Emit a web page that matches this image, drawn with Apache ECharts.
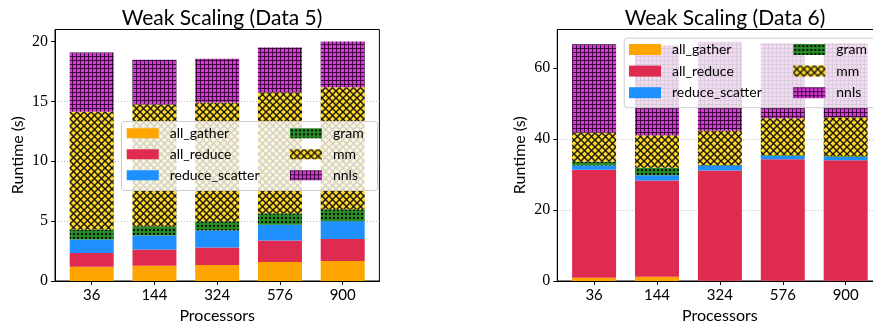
<!DOCTYPE html>
<html>
<head>
<meta charset="utf-8">
<script src="https://cdn.jsdelivr.net/npm/echarts@6/dist/echarts.min.js"></script>
<style>
  html, body { margin: 0; padding: 0; background: #fff; }
  #chart { width: 873px; height: 326px; }
</style>
</head>
<body>
<div id="chart"></div>
<script>
// Categories and stacked runtime components (seconds)
const processors = ['36', '144', '324', '576', '900'];
const componentNames = ['all_gather', 'all_reduce', 'reduce_scatter', 'gram', 'mm', 'nnls'];

// Weak Scaling (Data 5)
const d5AllGather     = [1.20, 1.28, 1.34, 1.59, 1.67];
const d5AllReduce     = [1.14, 1.34, 1.45, 1.79, 1.84];
const d5ReduceScatter = [1.12, 1.17, 1.42, 1.31, 1.48];
const d5Gram          = [0.84, 0.78, 0.78, 0.97, 1.01];
const d5Mm            = [9.84, 10.16, 9.91, 10.07, 10.18];
const d5Nnls          = [4.94, 3.74, 3.65, 3.77, 3.82];

// Weak Scaling (Data 6)
const d6AllGather     = [0.94, 1.23, 0.08, 0.05, 0.05];
const d6AllReduce     = [30.40, 27.07, 31.00, 34.25, 33.95];
const d6ReduceScatter = [1.20, 1.50, 1.40, 0.90, 0.90];
const d6Gram          = [1.00, 2.10, 0.20, 0.20, 0.20];
const d6Mm            = [8.20, 9.10, 9.60, 10.40, 11.00];
const d6Nnls          = [24.90, 25.30, 25.10, 21.10, 20.80];

// Tick values
const ticksData5 = [0, 5, 10, 15, 20];
const ticksData6 = [0, 20, 40, 60];

// ---- hatch fills ----
function tile(size, bg, draw) {
  const c = document.createElement('canvas');
  c.width = size; c.height = size;
  const g = c.getContext('2d');
  g.fillStyle = bg;
  g.fillRect(0, 0, size, size);
  draw(g, size);
  return { image: c, repeat: 'repeat' };
}
const dotsFill = tile(4, '#278a27', (g) => {
  g.fillStyle = '#061206';
  g.fillRect(1, 1, 2, 2);
});
const crossFill = tile(7, '#ffd82a', (g, s) => {
  g.strokeStyle = 'rgba(10,10,10,0.9)';
  g.lineWidth = 1.5;
  for (let k = -1; k <= 1; k++) {
    g.beginPath(); g.moveTo(k * s, 0); g.lineTo(k * s + s, s); g.stroke();
    g.beginPath(); g.moveTo(k * s + s, 0); g.lineTo(k * s, s); g.stroke();
  }
});
const gridFill = tile(4, '#d63ad6', (g, s) => {
  g.fillStyle = 'rgba(40,0,40,0.85)';
  g.fillRect(0, 0, s, 1);
  g.fillRect(0, 0, 1, s);
});
const fills = ['#ffa500', '#e02b50', '#1e90ff', dotsFill, crossFill, gridFill];

const sansFont = 'Lato';
const serifFont = 'Liberation Serif';

// value first so the runtime dimension is the stacked one; position index second
function buildSeries(idx, columns) {
  return columns.map((col, i) => ({
    type: 'bar',
    name: componentNames[i],
    xAxisIndex: idx,
    yAxisIndex: idx,
    stack: 'runtime' + idx,
    barWidth: 44,
    silent: true,
    itemStyle: { color: fills[i] },
    encode: { x: 1, y: 0 },
    data: col.map((v, k) => [v, k])
  }));
}

function xAxisFor(idx) {
  return {
    type: 'value',
    gridIndex: idx,
    min: -0.585,
    max: 4.585,
    axisLine: { show: true, onZero: false, lineStyle: { color: '#000', width: 1 } },
    axisTick: { show: true, length: 4, customValues: [0, 1, 2, 3, 4], lineStyle: { color: '#000' } },
    axisLabel: {
      customValues: [0, 1, 2, 3, 4],
      formatter: (v) => processors[Math.round(v)],
      margin: 7,
      fontFamily: sansFont, fontSize: 15, color: '#000'
    },
    splitLine: { show: false },
    name: 'Processors',
    nameLocation: 'middle',
    nameGap: 23,
    nameTextStyle: { fontFamily: sansFont, fontSize: 16, color: '#000' }
  };
}

function yAxisFor(idx, max, interval, ticks) {
  return {
    type: 'value',
    gridIndex: idx,
    min: 0,
    max: max,
    interval: interval,
    axisLine: { show: true, onZero: false, lineStyle: { color: '#000', width: 1 } },
    axisTick: { show: true, length: 4, customValues: ticks, lineStyle: { color: '#000' } },
    axisLabel: {
      showMaxLabel: false,
      margin: 7,
      fontFamily: serifFont, fontSize: 16, color: '#000'
    },
    splitLine: {
      show: true, showMaxLine: false, showMinLine: false,
      lineStyle: { color: '#b8b8b8', width: 1, type: [1, 2] }
    },
    name: 'Runtime (s)',
    nameLocation: 'middle',
    nameGap: 29,
    nameTextStyle: { fontFamily: sansFont, fontSize: 16, color: '#000' }
  };
}

function legendColumn(left, top, names, itemHeight, gap) {
  return {
    left: left, top: top, orient: 'vertical', padding: 0,
    itemWidth: 32, itemHeight: itemHeight, itemGap: gap,
    icon: 'rect', selectedMode: false, z: 60,
    data: names,
    textStyle: { fontFamily: sansFont, fontSize: 14, lineHeight: 14, color: '#000', padding: [0, 0, 0, 6] }
  };
}

const chart = echarts.init(document.getElementById('chart'), null, { renderer: 'canvas' });
chart.setOption({
  animation: false,
  backgroundColor: '#fff',
  title: [
    { text: 'Weak Scaling (Data 5)', left: 217, top: 3, textAlign: 'center',
      textStyle: { fontFamily: sansFont, fontSize: 21, fontWeight: 'normal', color: '#000' } },
    { text: 'Weak Scaling (Data 6)', left: 720, top: 3, textAlign: 'center',
      textStyle: { fontFamily: sansFont, fontSize: 21, fontWeight: 'normal', color: '#000' } }
  ],
  grid: [
    { left: 55, top: 29.5, width: 324.4, bottom: 45, outerBoundsMode: 'none', containLabel: false,
      show: true, borderColor: '#000', borderWidth: 1, backgroundColor: 'transparent' },
    { left: 557.3, top: 29.5, width: 325.2, bottom: 45, outerBoundsMode: 'none', containLabel: false,
      show: true, borderColor: '#000', borderWidth: 1, backgroundColor: 'transparent' }
  ],
  xAxis: [xAxisFor(0), xAxisFor(1)],
  yAxis: [yAxisFor(0, 21, 5, ticksData5), yAxisFor(1, 70.8, 20, ticksData6)],
  legend: [
    legendColumn(126.7, 126.3, componentNames.slice(0, 3), 10, 7),
    legendColumn(290, 126.3, componentNames.slice(3), 10, 7),
    legendColumn(629, 42.5, componentNames.slice(0, 3), 11, 7.6),
    legendColumn(793.3, 42.5, componentNames.slice(3), 11, 7.6)
  ],
  graphic: {
    elements: [
      { type: 'rect', left: 121, top: 121, z: 50,
        shape: { width: 256, height: 69, r: 3 },
        style: { fill: 'rgba(255,255,255,0.8)', stroke: '#cccccc', lineWidth: 1 } },
      { type: 'rect', left: 623.7, top: 37.7, z: 50,
        shape: { width: 262, height: 69.5, r: 3 },
        style: { fill: 'rgba(255,255,255,0.8)', stroke: '#cccccc', lineWidth: 1 } }
    ]
  },
  series: [
    ...buildSeries(0, [d5AllGather, d5AllReduce, d5ReduceScatter, d5Gram, d5Mm, d5Nnls]),
    ...buildSeries(1, [d6AllGather, d6AllReduce, d6ReduceScatter, d6Gram, d6Mm, d6Nnls])
  ]
});
</script>
</body>
</html>
